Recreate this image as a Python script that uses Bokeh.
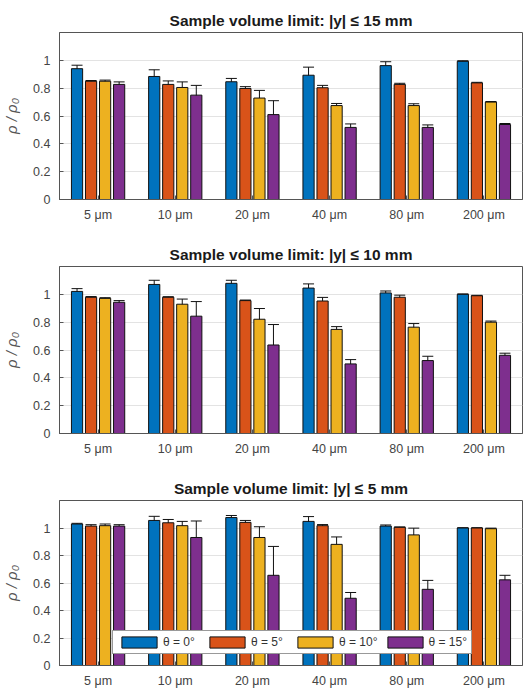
from bokeh.plotting import figure
from bokeh.models import (ColumnDataSource, FactorRange, Range1d, FixedTicker, Whisker, TeeHead,
                          NumeralTickFormatter)
from bokeh.transform import dodge
from bokeh.layouts import column
from bokeh.embed import file_html
from bokeh.resources import INLINE

categories = ["5 μm", "10 μm", "20 μm", "40 μm", "80 μm", "200 μm"]
series_labels = ["θ = 0°", "θ = 5°", "θ = 10°", "θ = 15°"]
titles = ["Sample volume limit: |y| ≤ 15 mm",
          "Sample volume limit: |y| ≤ 10 mm",
          "Sample volume limit: |y| ≤ 5 mm"]

# |y| <= 15 mm
y15_t0 = [0.940, 0.884, 0.846, 0.893, 0.962, 0.993]
y15_t0_err = [0.025, 0.048, 0.024, 0.058, 0.028, 0.004]
y15_t5 = [0.850, 0.827, 0.798, 0.803, 0.827, 0.838]
y15_t5_err = [0.005, 0.025, 0.013, 0.017, 0.008, 0.004]
y15_t10 = [0.850, 0.805, 0.729, 0.675, 0.675, 0.700]
y15_t10_err = [0.008, 0.040, 0.055, 0.015, 0.013, 0.004]
y15_t15 = [0.827, 0.750, 0.610, 0.518, 0.518, 0.539]
y15_t15_err = [0.018, 0.070, 0.100, 0.025, 0.018, 0.007]

# |y| <= 10 mm
y10_t0 = [1.021, 1.071, 1.079, 1.045, 1.010, 1.000]
y10_t0_err = [0.020, 0.030, 0.022, 0.030, 0.014, 0.003]
y10_t5 = [0.979, 0.979, 0.955, 0.952, 0.979, 0.990]
y10_t5_err = [0.005, 0.004, 0.004, 0.026, 0.015, 0.003]
y10_t10 = [0.971, 0.929, 0.821, 0.748, 0.764, 0.800]
y10_t10_err = [0.005, 0.037, 0.077, 0.020, 0.026, 0.008]
y10_t15 = [0.943, 0.843, 0.636, 0.500, 0.524, 0.562]
y10_t15_err = [0.012, 0.105, 0.147, 0.031, 0.031, 0.015]

# |y| <= 5 mm
y5_t0 = [1.029, 1.055, 1.076, 1.048, 1.014, 1.000]
y5_t0_err = [0.005, 0.030, 0.015, 0.035, 0.008, 0.002]
y5_t5 = [1.014, 1.038, 1.041, 1.017, 1.005, 1.000]
y5_t5_err = [0.010, 0.024, 0.014, 0.008, 0.003, 0.002]
y5_t10 = [1.017, 1.017, 0.931, 0.881, 0.950, 0.995]
y5_t10_err = [0.012, 0.031, 0.078, 0.054, 0.049, 0.004]
y5_t15 = [1.014, 0.931, 0.656, 0.489, 0.554, 0.623]
y5_t15_err = [0.010, 0.120, 0.210, 0.042, 0.065, 0.033]

y_ticks = [0, 0.2, 0.4, 0.6, 0.8, 1.0]

panels = [
    ([y15_t0, y15_t5, y15_t10, y15_t15], [y15_t0_err, y15_t5_err, y15_t10_err, y15_t15_err]),
    ([y10_t0, y10_t5, y10_t10, y10_t15], [y10_t0_err, y10_t5_err, y10_t10_err, y10_t15_err]),
    ([y5_t0, y5_t5, y5_t10, y5_t15], [y5_t0_err, y5_t5_err, y5_t10_err, y5_t15_err]),
]

colors = ["#0072BD", "#D95319", "#EDB120", "#7E2F8E"]
offsets = [-0.2727, -0.0909, 0.0909, 0.2727]
bar_w = 0.145
FONT = "Liberation Sans"
AX = "#555555"

heights = [234, 234, 222]
tops = [32, 32, 32]
bottoms = [35, 35, 23]

figs = []
for i, (vals, errs) in enumerate(panels):
    last = (i == 2)
    p = figure(width=528, height=heights[i], x_range=FactorRange(*categories), y_range=Range1d(0, 1.2),
               output_backend="svg", toolbar_location=None, title=titles[i],
               min_border_left=56, min_border_right=6, min_border_top=tops[i],
               min_border_bottom=bottoms[i])
    p.title.align = "center"
    p.title.text_font = FONT
    p.title.text_font_size = "15.5px"
    p.title.text_font_style = "bold"
    p.title.text_color = "#1a1a1a"
    p.title.standoff = 7
    p.outline_line_color = AX
    p.outline_line_width = 1
    p.xgrid.grid_line_color = None
    p.ygrid.grid_line_color = "#e3e3e3"
    p.yaxis.ticker = FixedTicker(ticks=y_ticks)
    p.yaxis.formatter = NumeralTickFormatter(format="0.[0]")
    for ax in (p.xaxis[0], p.yaxis[0]):
        ax.major_tick_in = 4
        ax.major_tick_out = 0
        ax.minor_tick_line_color = None
        ax.axis_line_color = AX
        ax.major_tick_line_color = AX
        ax.major_label_text_font = FONT
        ax.major_label_text_font_size = "12.5px"
        ax.major_label_text_color = "#444444"
    p.xaxis.major_label_standoff = 8
    p.yaxis.major_label_standoff = 9
    p.yaxis.axis_label = "ρ / ρ₀"
    p.yaxis.axis_label_text_font = FONT
    p.yaxis.axis_label_text_font_style = "italic"
    p.yaxis.axis_label_text_font_size = "15px"
    p.yaxis.axis_label_text_color = "#555555"
    p.yaxis.axis_label_standoff = 10

    for k in range(4):
        up = [v + e for v, e in zip(vals[k], errs[k])]
        lo = [v - e for v, e in zip(vals[k], errs[k])]
        src = ColumnDataSource(dict(cat=categories, val=vals[k], up=up, lo=lo))
        kw = dict(legend_label=series_labels[k]) if last else {}
        p.vbar(x=dodge("cat", offsets[k], range=p.x_range), top="val", width=bar_w, source=src,
               fill_color=colors[k], line_color="#111111", line_width=1, **kw)
        wk = Whisker(base=dodge("cat", offsets[k], range=p.x_range), upper="up", lower="lo",
                     source=src, line_color="#111111", line_width=1,
                     upper_head=TeeHead(size=11, line_color="#111111", line_width=1),
                     lower_head=TeeHead(size=11, line_color="#111111", line_width=1))
        p.add_layout(wk)

    if last:
        lg = p.legend[0]
        lg.orientation = "horizontal"
        lg.location = (53, 11)
        lg.glyph_width = 44
        lg.glyph_height = 14
        lg.label_height = 14
        lg.label_width = 37
        lg.label_standoff = 2
        lg.spacing = 5
        lg.padding = 4
        lg.margin = 0
        lg.border_line_color = "#333333"
        lg.background_fill_alpha = 1
        lg.label_text_font = FONT
        lg.label_text_font_size = "12px"
        lg.label_text_color = "#333333"
    figs.append(p)

layout = column(*figs, spacing=0)
open("out.html", "w").write(file_html(layout, INLINE))
